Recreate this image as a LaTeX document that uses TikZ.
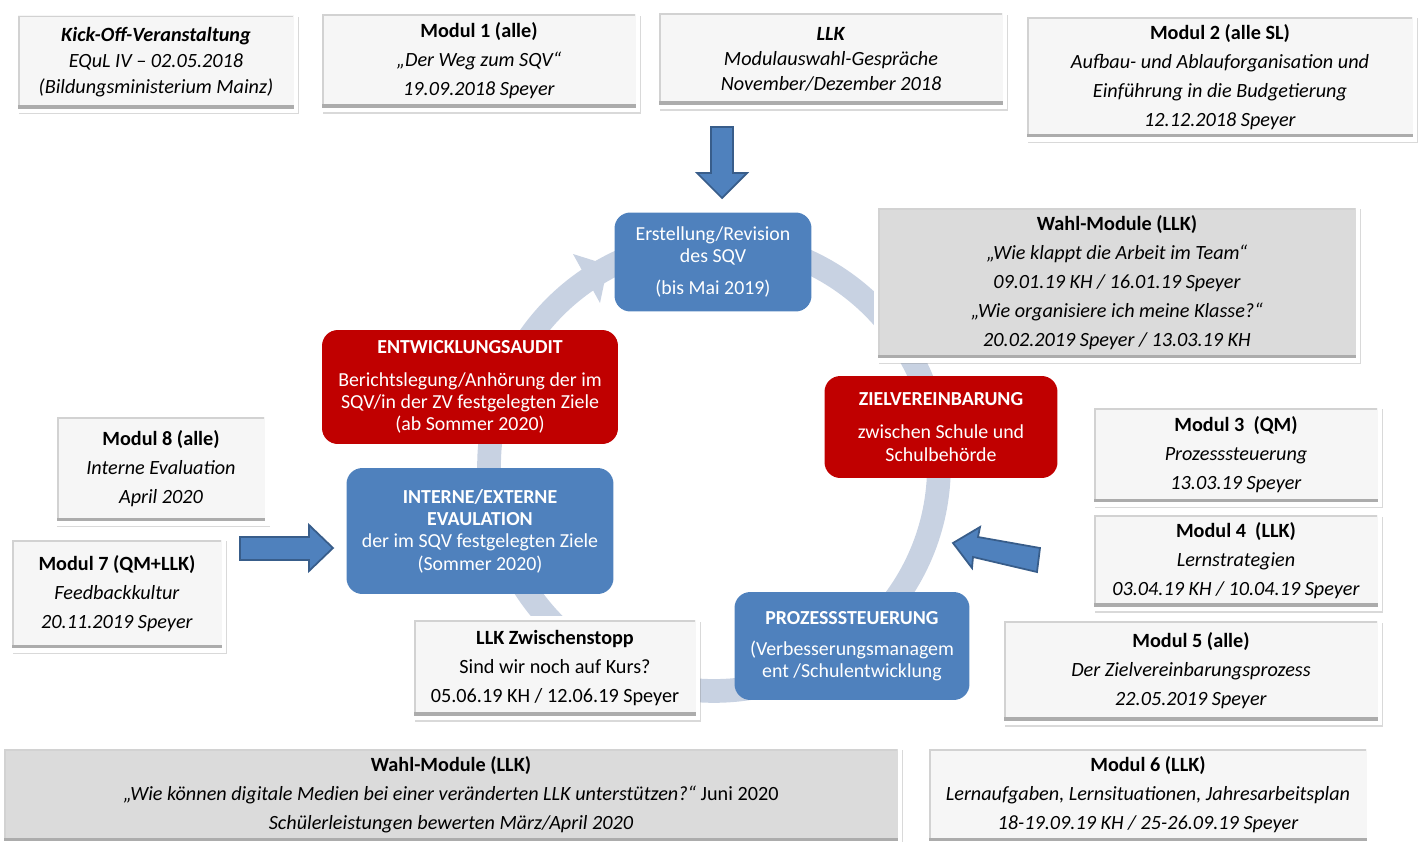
\documentclass[tikz,border=0pt]{standalone}
\usepackage{fontspec}
\setmainfont{Carlito}
\usetikzlibrary{shadows}
\definecolor{sqvblau}{HTML}{4F81BD}
\definecolor{sqvblaurand}{HTML}{385D8A}
\definecolor{sqvrot}{HTML}{C00000}
\definecolor{ringgrau}{HTML}{C8D2E2}
\tikzset{
  karte/.style={rectangle, fill=gray!7, draw=white, line width=2.5pt, align=center, inner sep=2pt,
    drop shadow={shadow xshift=1.5pt, shadow yshift=-2pt, opacity=0.3},
    font=\fontsize{11.5}{16.5}\selectfont,
    path picture={
      \draw[gray!35, line width=1pt] ([xshift=1.8pt,yshift=2pt]path picture bounding box.south west) -- ([xshift=1.8pt,yshift=-1.8pt]path picture bounding box.north west) -- ([xshift=-1.8pt,yshift=-1.8pt]path picture bounding box.north east);
      \draw[gray!65, line width=2pt] ([yshift=2.2pt]path picture bounding box.south west) -- ([yshift=2.2pt]path picture bounding box.south east);}},
  wahlkarte/.style={karte, fill=gray!28},
  phase/.style={rectangle, rounded corners=9pt, fill=sqvblau, text=white, align=center, inner sep=2pt,
    font=\fontsize{11.3}{12.7}\selectfont},
  rotphase/.style={phase, fill=sqvrot},
  blockpfeil/.style={fill=sqvblau, draw=sqvblaurand, line width=1pt, line join=miter},
}
\begin{document}
\begin{tikzpicture}[x=0.02cm, y=-0.02cm]
    \useasboundingbox (0,0) rectangle (1418,842);
    % Kreislauf
    \draw[ringgrau, line width=13.5pt] (714,466) circle[radius=4.5cm];
    \fill[ringgrau] (573,254) -- (608,265) -- (600,303) -- cycle;
    % Obere Reihe
    \node[karte, minimum width=5.6cm, minimum height=1.95cm, font=\fontsize{11.5}{14.8}\selectfont] (kickoff) at (156,62)
        {\textbf{\textit{Kick-Off-Veranstaltung}}\\\textit{EQuL IV – 02.05.2018}\\\textit{(Bildungsministerium Mainz)}};
    \node[karte, minimum width=6.36cm, minimum height=1.96cm] (modul1) at (479,61)
        {\textbf{Modul 1 (alle)}\\\textit{„Der Weg zum SQV“}\\\textit{19.09.2018 Speyer}};
    \node[karte, minimum width=6.96cm, minimum height=1.92cm, font=\fontsize{11.5}{14.3}\selectfont] (llk) at (831,59)
        {\textbf{\textit{LLK}}\\\textit{Modulauswahl-Gespräche}\\\textit{November/Dezember 2018}};
    \node[karte, minimum width=7.8cm, minimum height=2.5cm] (modul2) at (1220,77)
        {\textbf{Modul 2 (alle SL)}\\\textit{Aufbau- und Ablauforganisation und}\\\textit{Einführung in die Budgetierung}\\\textit{12.12.2018 Speyer}};
    % Rechte Seite
    \node[wahlkarte, minimum width=9.64cm, minimum height=3.1cm] (wahl1) at (1117,283)
        {\textbf{Wahl-Module (LLK)}\\\textit{„Wie klappt die Arbeit im Team“}\\\textit{09.01.19 KH / 16.01.19 Speyer}\\\textit{„Wie organisiere ich meine Klasse?“}\\\textit{20.02.2019 Speyer / 13.03.19 KH}};
    \node[karte, minimum width=5.76cm, minimum height=1.98cm] (modul3) at (1236,455)
        {\textbf{Modul 3\ \ (QM)}\\\textit{Prozesssteuerung}\\\textit{13.03.19 Speyer}};
    \node[karte, minimum width=5.76cm, minimum height=1.92cm] (modul4) at (1236,561)
        {\textbf{Modul 4\ \ (LLK)}\\\textit{Lernstrategien}\\\textit{03.04.19 KH / 10.04.19 Speyer}};
    \node[karte, minimum width=7.56cm, minimum height=2.08cm] (modul5) at (1191,671)
        {\textbf{Modul 5 (alle)}\\\textit{Der Zielvereinbarungsprozess}\\\textit{22.05.2019 Speyer}};
    % Untere Reihe
    \node[wahlkarte, minimum width=17.96cm, minimum height=1.94cm] (wahl2) at (451,795)
        {\textbf{Wahl-Module (LLK)}\\\textit{„Wie können digitale Medien bei einer veränderten LLK unterstützen?“} Juni 2020\\\textit{Schülerleistungen bewerten März/April 2020}};
    \node[karte, minimum width=8.86cm, minimum height=1.94cm] (modul6) at (1148,795)
        {\textbf{Modul 6 (LLK)}\\\textit{Lernaufgaben, Lernsituationen, Jahresarbeitsplan}\\\textit{18-19.09.19 KH / 25-26.09.19 Speyer}};
    % Linke Seite
    \node[karte, minimum width=4.26cm, minimum height=2.18cm] (modul8) at (161,469)
        {\textbf{Modul 8 (alle)}\\\textit{Interne Evaluation}\\\textit{April 2020}};
    \node[karte, minimum width=4.28cm, minimum height=2.26cm] (modul7) at (117,594)
        {\textbf{Modul 7 (QM+LLK)}\\\textit{Feedbackkultur}\\\textit{20.11.2019 Speyer}};
    \node[karte, minimum width=5.72cm, minimum height=2cm] (zwischenstopp) at (555,668)
        {\textbf{LLK Zwischenstopp}\\Sind wir noch auf Kurs?\\05.06.19 KH / 12.06.19 Speyer};
    % Phasen im Kreislauf
    \node[phase, minimum width=3.94cm, minimum height=1.98cm] (erstellung) at (713,262)
        {Erstellung/Revision\\des SQV\\[5.5pt](bis Mai 2019)};
    \node[rotphase, minimum width=5.92cm, minimum height=2.28cm] (audit) at (470,387)
        {\textbf{ENTWICKLUNGSAUDIT}\\[6pt]Berichtslegung/Anhörung der im\\SQV/in der ZV festgelegten Ziele\\(ab Sommer 2020)};
    \node[rotphase, minimum width=4.66cm, minimum height=2.04cm] (ziel) at (941,427)
        {\textbf{ZIELVEREINBARUNG}\\[6pt]zwischen Schule und\\Schulbehörde};
    \node[phase, minimum width=5.34cm, minimum height=2.52cm] (evaluation) at (480,531)
        {\textbf{INTERNE/EXTERNE}\\\textbf{EVAULATION}\\der im SQV festgelegten Ziele\\(Sommer 2020)};
    \node[phase, minimum width=4.7cm, minimum height=2.16cm] (prozess) at (852,646)
        {\textbf{PROZESSSTEUERUNG}\\[5pt](Verbesserungsmanagem\\ent /Schulentwicklung};
    % Blockpfeile
    \draw[blockpfeil] (711,127) -- (733,127) -- (733,173) -- (747,173) -- (722,198) -- (697,173) -- (711,173) -- cycle;
    \draw[blockpfeil] (240,537) -- (309,537) -- (309,525) -- (333,548) -- (309,571) -- (309,560) -- (240,560) -- cycle;
    \draw[blockpfeil] (953,543) -- (980,527) -- (978,537) -- (1040,548) -- (1037,572) -- (973,557) -- (972,568) -- cycle;
\end{tikzpicture}
\end{document}
